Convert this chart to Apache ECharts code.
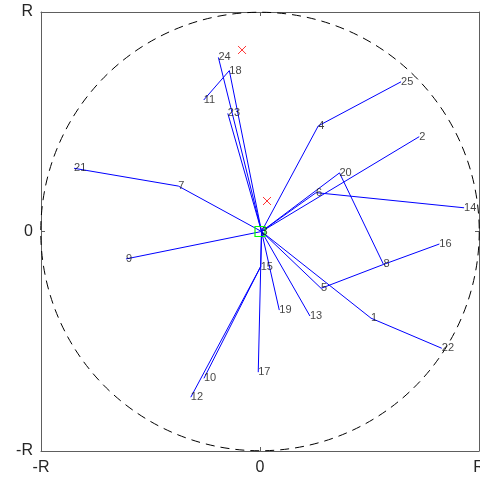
<!DOCTYPE html>
<html>
<head>
<meta charset="utf-8">
<script src="https://cdn.jsdelivr.net/npm/echarts@6/dist/echarts.min.js"></script>
<style>
html,body{margin:0;padding:0;background:#fff;overflow:hidden;}
#chart{width:480px;height:479px;}
</style>
</head>
<body>
<div id="chart"></div>
<script>
// Node positions (in units of R) and labels
var nodeLabels = ['1','2','3','4','5','6','7','8','9','10','11','12','13','14','15','16','17','18','19','20','21','22','23','24','25'];
var nodeX = [0.507, 0.727, 0.007, 0.266, 0.279, 0.256, -0.373, 0.564, -0.612, -0.256, -0.257, -0.316, 0.228, 0.932, 0.003, 0.819, -0.008, -0.140, 0.088, 0.363, -0.849, 0.830, -0.147, -0.190, 0.644];
var nodeY = [-0.395, 0.432, 0.000, 0.481, -0.259, 0.177, 0.207, -0.150, -0.125, -0.669, 0.599, -0.755, -0.385, 0.108, -0.160, -0.057, -0.641, 0.733, -0.358, 0.267, 0.288, -0.532, 0.538, 0.793, 0.682];
// Edges (node numbers)
var edgeFrom = [3, 3, 18, 3, 3, 7, 3, 3, 15, 15, 3, 3, 3, 3, 5, 8, 3, 1, 3, 4, 3, 3, 20, 3, 6];
var edgeTo   = [24, 18, 11, 23, 7, 21, 9, 15, 12, 10, 17, 19, 13, 5, 8, 16, 1, 22, 4, 25, 2, 20, 8, 6, 14];
// Red cross markers
var crossX = [-0.082, 0.032];
var crossY = [0.827, 0.139];
// Green square marker
var squareX = [0.0];
var squareY = [0.0];
// Axis ticks
var tickValues = [-1, 0, 1];
var tickLabels = ['-R', '0', 'R'];

var labelFor = function (v) {
  for (var i = 0; i < tickValues.length; i++) {
    if (Math.abs(v - tickValues[i]) < 1e-9) return tickLabels[i];
  }
  return '';
};

var edgeData = [];
for (var i = 0; i < edgeFrom.length; i++) {
  var a = edgeFrom[i] - 1, b = edgeTo[i] - 1;
  edgeData.push({coords: [[nodeX[a], nodeY[a]], [nodeX[b], nodeY[b]]]});
}
var nodeData = [];
for (var j = 0; j < nodeLabels.length; j++) {
  nodeData.push({value: [nodeX[j], nodeY[j]], name: nodeLabels[j]});
}
var crossData = crossX.map(function (x, k) { return [x, crossY[k]]; });
var squareData = squareX.map(function (x, k) { return [x, squareY[k]]; });

var axisColor = '#5e5e5e';
var fontFam = '"Liberation Sans", Arial, Helvetica, sans-serif';

function mkAxis(pos, showLabel) {
  return {
    type: 'value', position: pos, min: -1, max: 1, interval: 1,
    axisLine: {show: true, onZero: false, lineStyle: {color: axisColor, width: 1}},
    axisTick: {show: true, inside: true, length: 4, lineStyle: {color: axisColor}},
    splitLine: {show: false},
    axisLabel: {show: showLabel, formatter: labelFor, color: '#262626', fontSize: 16, fontFamily: fontFam, margin: pos === 'bottom' ? 9 : 8}
  };
}

var chart = echarts.init(document.getElementById('chart'));
chart.setOption({
  animation: false,
  backgroundColor: '#fff',
  grid: {left: 41, top: 12, right: 1, bottom: 28, containLabel: false, outerBoundsMode: 'none'},
  xAxis: [mkAxis('bottom', true), mkAxis('top', false)],
  yAxis: [mkAxis('left', true), mkAxis('right', false)],
  series: [
    {
      type: 'custom',
      coordinateSystem: 'cartesian2d',
      data: [[0, 0]],
      clip: false,
      silent: true,
      z: 1,
      renderItem: function (params, api) {
        var c = api.coord([api.value(0), api.value(1)]);
        var s = api.size([1, 1]);
        return {
          type: 'circle',
          shape: {cx: c[0], cy: c[1], r: (s[0] + s[1]) / 2},
          style: {fill: 'none', stroke: '#000', lineWidth: 1, lineDash: [9, 6]}
        };
      }
    },
    {
      type: 'lines',
      coordinateSystem: 'cartesian2d',
      polyline: false,
      data: edgeData,
      lineStyle: {color: '#0000ff', width: 1, opacity: 1},
      silent: true,
      z: 2
    },
    {
      type: 'scatter',
      data: squareData,
      symbol: 'rect',
      symbolSize: 10,
      itemStyle: {color: 'rgba(0,0,0,0)', borderColor: '#00ff00', borderWidth: 1.2, opacity: 1},
      z: 3,
      silent: true
    },
    {
      type: 'scatter',
      data: nodeData,
      symbolSize: 0,
      z: 4,
      label: {
        show: true, position: 'right', distance: 0, offset: [0, 1],
        formatter: function (p) { return p.name; },
        color: '#111', fontSize: 11, fontFamily: fontFam
      },
      labelLayout: {hideOverlap: false},
      silent: true
    },
    {
      type: 'scatter',
      data: crossData,
      symbol: 'path://M0,0L10,10M10,0L0,10',
      symbolSize: 8,
      itemStyle: {color: 'none', borderColor: '#ff0000', borderWidth: 1},
      z: 4,
      silent: true
    }
  ]
});
</script>
</body>
</html>
